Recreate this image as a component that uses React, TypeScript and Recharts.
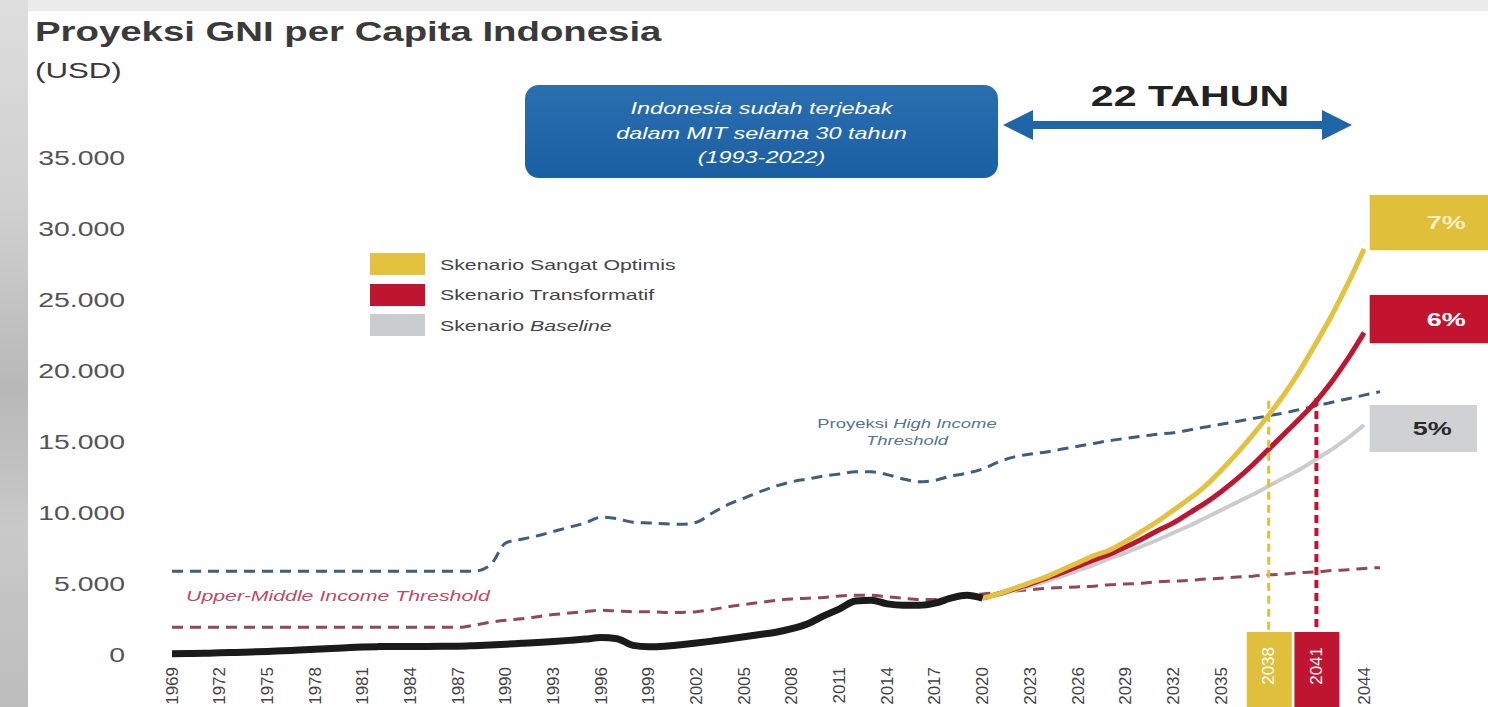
import React from "react";
import {
  LineChart,
  Line,
  XAxis,
  YAxis,
  Legend,
  ReferenceLine,
  ReferenceArea,
} from "recharts";

const FONT = '"Liberation Sans", Arial, Helvetica, sans-serif';
// the source picture is stretched sideways, so text is widened to match
const STRETCH = 1.42;

const historyYears = [
  1969, 1970, 1971, 1972, 1973, 1974, 1975, 1976, 1977, 1978,
  1979, 1980, 1981, 1982, 1983, 1984, 1985, 1986, 1987, 1988,
  1989, 1990, 1991, 1992, 1993, 1994, 1995, 1996, 1997, 1998,
  1999, 2000, 2001, 2002, 2003, 2004, 2005, 2006, 2007, 2008,
  2009, 2010, 2011, 2012, 2013, 2014, 2015, 2016, 2017, 2018,
  2019, 2020,
];
const historyGni = [
  80, 100, 120, 150, 180, 215, 250, 300, 350, 400,
  450, 510, 560, 590, 600, 600, 600, 610, 620, 660,
  710, 760, 820, 880, 950, 1030, 1120, 1230, 1150, 680,
  580, 620, 720, 840, 980, 1130, 1280, 1440, 1600, 1850,
  2200, 2750, 3250, 3800, 3850, 3600, 3500, 3500, 3650, 4000,
  4200, 4000,
];

const projectionYears = [
  2020, 2021, 2022, 2023, 2024, 2025, 2026, 2027, 2028, 2029,
  2030, 2031, 2032, 2033, 2034, 2035, 2036, 2037, 2038, 2039,
  2040, 2041, 2042, 2043, 2044,
];
const sangatOptimis = [
  4000, 4300, 4700, 5100, 5500, 6000, 6500, 7000, 7400, 8000,
  8700, 9400, 10200, 11000, 11900, 13000, 14200, 15500, 16900, 18400,
  20100, 22000, 24000, 26200, 28600,
];
const transformatif = [
  4000, 4300, 4650, 5000, 5400, 5800, 6250, 6700, 7100, 7600,
  8150, 8750, 9300, 10000, 10700, 11500, 12400, 13400, 14500, 15600,
  16700, 17900, 19300, 20900, 22700,
];
const baseline = [
  4000, 4250, 4550, 4850, 5200, 5550, 5950, 6350, 6800, 7200,
  7650, 8100, 8600, 9100, 9650, 10200, 10750, 11300, 11900, 12500,
  13100, 13800, 14500, 15300, 16200,
];

const thresholdYears = [
  1969, 1970, 1971, 1972, 1973, 1974, 1975, 1976, 1977, 1978,
  1979, 1980, 1981, 1982, 1983, 1984, 1985, 1986, 1987, 1988,
  1989, 1990, 1991, 1992, 1993, 1994, 1995, 1996, 1997, 1998,
  1999, 2000, 2001, 2002, 2003, 2004, 2005, 2006, 2007, 2008,
  2009, 2010, 2011, 2012, 2013, 2014, 2015, 2016, 2017, 2018,
  2019, 2020, 2021, 2022, 2023, 2024, 2025, 2026, 2027, 2028,
  2029, 2030, 2031, 2032, 2033, 2034, 2035, 2036, 2037, 2038,
  2039, 2040, 2041, 2042, 2043, 2044, 2045,
];
const highIncome = [
  5900, 5900, 5900, 5900, 5900, 5900, 5900, 5900, 5900, 5900,
  5900, 5900, 5900, 5900, 5900, 5900, 5900, 5900, 5900, 5900,
  6300, 7900, 8150, 8400, 8700, 9000, 9300, 9700, 9600, 9350,
  9300, 9250, 9200, 9350, 10000, 10600, 11050, 11500, 11900, 12200,
  12400, 12600, 12750, 12900, 12900, 12700, 12400, 12200, 12300, 12600,
  12800, 13100, 13600, 13950, 14150, 14300, 14500, 14700, 14900, 15100,
  15250, 15400, 15550, 15650, 15850, 16050, 16250, 16450, 16650, 16850,
  17050, 17300, 17550, 17800, 18050, 18300, 18550,
];
const upperMiddle = [
  1950, 1950, 1950, 1950, 1950, 1950, 1950, 1950, 1950, 1950,
  1950, 1950, 1950, 1950, 1950, 1950, 1950, 1950, 1950, 2100,
  2300, 2450, 2550, 2700, 2850, 2950, 3050, 3150, 3100, 3050,
  3050, 3000, 3000, 3050, 3200, 3400, 3550, 3700, 3850, 3950,
  4000, 4050, 4150, 4200, 4200, 4100, 4000, 3900, 3900, 4050,
  4200, 4300, 4400, 4500, 4600, 4700, 4750, 4800, 4850, 4950,
  5000, 5050, 5150, 5200, 5250, 5350, 5400, 5500, 5550, 5650,
  5700, 5800, 5850, 5950, 6000, 6100, 6150,
];

const xTicks = [
  1969, 1972, 1975, 1978, 1981, 1984, 1987, 1990, 1993, 1996, 1999, 2002, 2005,
  2008, 2011, 2014, 2017, 2020, 2023, 2026, 2029, 2032, 2035, 2038, 2041, 2044,
];
const yTicks = [0, 5000, 10000, 15000, 20000, 25000, 30000, 35000];

// years that get a coloured box under the axis
const crossingYears = [
  { year: 2038, color: "#dfbf3c", from: 17900 },
  { year: 2041, color: "#bf1530", from: 18100 },
];

const legendItems = [
  { label: "Skenario Sangat Optimis", italic: "", color: "#e2c23e" },
  { label: "Skenario Transformatif", italic: "", color: "#c0152f" },
  { label: "Skenario ", italic: "Baseline", color: "#cbcccd" },
];

const endBoxes = [
  { text: "7%", x2: 2054, y1: 28500, y2: 32400, fill: "#e0bf3a", color: "#f8efc4", dx: 0 },
  { text: "6%", x2: 2054, y1: 21950, y2: 25350, fill: "#c2142e", color: "#ffffff", dx: 0 },
  { text: "5%", x2: 2051.1, y1: 14300, y2: 17600, fill: "#d0d1d2", color: "#2a2a2a", dx: 9 },
];

const zip = (xs: number[], ys: number[]) => xs.map((year, i) => ({ year, value: ys[i] }));

const fmt = (v: number) => String(v).replace(/\B(?=(\d{3})+(?!\d))/g, ".");

const YTick = (props: any) => {
  const { x, y, payload } = props;
  return (
    <text
      transform={`translate(${x},${y}) scale(${STRETCH},1)`}
      textAnchor="end"
      dominantBaseline="central"
      fontSize={20}
      fontFamily={FONT}
      fill="#555"
    >
      {fmt(payload.value)}
    </text>
  );
};

const XTick = (props: any) => {
  const { x, y, payload } = props;
  const mark = crossingYears.find((m) => m.year === payload.value);
  return (
    <g>
      {mark && <rect x={x - 22} y={y - 35} width={45} height={90} fill={mark.color} />}
      <text
        transform={`translate(${x},${mark ? y - 20 : y}) rotate(-90)`}
        textAnchor="end"
        dominantBaseline="central"
        fontSize={17}
        fontFamily={FONT}
        fill={mark ? "#fff" : "#444"}
      >
        {payload.value}
      </text>
    </g>
  );
};

const BoxLabel = (props: any) => {
  const { viewBox, text, color, dx } = props;
  const cx = viewBox.x + viewBox.width / 2 + dx;
  const cy = viewBox.y + viewBox.height / 2;
  return (
    <text
      transform={`translate(${cx},${cy}) scale(${STRETCH},1)`}
      textAnchor="middle"
      dominantBaseline="central"
      fontSize={19}
      fontWeight="bold"
      fontFamily={FONT}
      fill={color}
    >
      {text}
    </text>
  );
};

const LegendBox = () => (
  <div style={{ fontFamily: FONT }}>
    {legendItems.map((it) => (
      <div key={it.label + it.italic} style={{ display: "flex", alignItems: "center", height: 30.5 }}>
        <div style={{ width: 55, height: 22, background: it.color, marginRight: 15 }} />
        <div
          style={{
            fontSize: 15,
            color: "#444",
            whiteSpace: "nowrap",
            transform: `scaleX(${STRETCH})`,
            transformOrigin: "left center",
          }}
        >
          {it.label}
          {it.italic && <i>{it.italic}</i>}
        </div>
      </div>
    ))}
  </div>
);

const stretched = (origin: string): React.CSSProperties => ({
  transform: `scaleX(${STRETCH})`,
  transformOrigin: origin,
  whiteSpace: "nowrap",
});

export default function App() {
  return (
    <div
      style={{
        position: "absolute",
        left: 0,
        top: 0,
        width: 1488,
        height: 707,
        overflow: "hidden",
        background: "#fff",
        fontFamily: FONT,
      }}
    >
      <div
        style={{
          position: "absolute",
          left: 0,
          top: 0,
          width: 1488,
          height: 11,
          background: "#ececec",
        }}
      />
      <div
        style={{
          position: "absolute",
          left: 0,
          top: 0,
          width: 28,
          height: 707,
          background:
            "linear-gradient(180deg, #dedede 0%, #cfcfcf 30%, #b8b8b8 55%, #c9c9c9 75%, #bdbdbd 100%)",
        }}
      />

      <div style={{ position: "absolute", left: 0, top: 0 }}>
        <LineChart width={1488} height={707} margin={{ top: 158, right: 108, bottom: 0, left: 0 }}>
          <XAxis
            type="number"
            dataKey="year"
            domain={[1969, 2045]}
            ticks={xTicks}
            interval={0}
            tick={<XTick />}
            axisLine={false}
            tickLine={false}
            tickSize={0}
            tickMargin={12}
            height={52}
            allowDuplicatedCategory={false}
          />
          <YAxis
            type="number"
            domain={[0, 35000]}
            ticks={yTicks}
            tick={<YTick />}
            axisLine={false}
            tickLine={false}
            tickSize={0}
            tickMargin={47}
            width={172}
          />
          <Legend
            layout="horizontal"
            verticalAlign="middle"
            align="center"
            content={<LegendBox />}
            wrapperStyle={{ position: "absolute", left: 370, top: 249, width: 320, height: 95 }}
          />

          {endBoxes.map((b) => (
            <ReferenceArea
              key={b.text}
              x1={2044.35}
              x2={b.x2}
              y1={b.y1}
              y2={b.y2}
              fill={b.fill}
              fillOpacity={1}
              stroke="none"
              ifOverflow="visible"
              label={<BoxLabel text={b.text} color={b.color} dx={b.dx} />}
            />
          ))}

          <Line
            data={zip(thresholdYears, highIncome)}
            dataKey="value"
            name="Proyeksi High Income Threshold"
            type="monotone"
            stroke="#3e5e7b"
            strokeWidth={3}
            strokeDasharray="11 7"
            dot={false}
            legendType="none"
            isAnimationActive={false}
          />
          <Line
            data={zip(thresholdYears, upperMiddle)}
            dataKey="value"
            name="Upper-Middle Income Threshold"
            type="monotone"
            stroke="#8f4a55"
            strokeWidth={3}
            strokeDasharray="11 7"
            dot={false}
            legendType="none"
            isAnimationActive={false}
          />
          <Line
            data={zip(projectionYears, baseline)}
            dataKey="value"
            name="Skenario Baseline"
            type="monotone"
            stroke="#cbcccd"
            strokeWidth={4}
            dot={false}
            isAnimationActive={false}
          />
          <Line
            data={zip(projectionYears, transformatif)}
            dataKey="value"
            name="Skenario Transformatif"
            type="monotone"
            stroke="#c0152f"
            strokeWidth={5}
            dot={false}
            isAnimationActive={false}
          />
          <Line
            data={zip(projectionYears, sangatOptimis)}
            dataKey="value"
            name="Skenario Sangat Optimis"
            type="monotone"
            stroke="#e2c23e"
            strokeWidth={5}
            dot={false}
            isAnimationActive={false}
          />
          <Line
            data={zip(historyYears, historyGni)}
            dataKey="value"
            name="GNI per Capita"
            type="monotone"
            stroke="#1b1b1b"
            strokeWidth={7}
            dot={false}
            legendType="none"
            isAnimationActive={false}
          />

          {crossingYears.map((m) => (
            <ReferenceLine
              key={m.year}
              segment={[
                { x: m.year, y: m.from },
                { x: m.year, y: 1650 },
              ]}
              stroke={m.color}
              strokeWidth={m.year === 2038 ? 3 : 4}
              strokeDasharray="8 5"
              ifOverflow="visible"
            />
          ))}
        </LineChart>
      </div>

      {/* title */}
      <div
        style={{
          position: "absolute",
          left: 35,
          top: 18,
          fontSize: 27,
          lineHeight: "28px",
          fontWeight: "bold",
          color: "#3a3a3a",
          ...stretched("left center"),
        }}
      >
        Proyeksi GNI per Capita Indonesia
      </div>
      <div
        style={{
          position: "absolute",
          left: 35,
          top: 57,
          fontSize: 22,
          lineHeight: "28px",
          color: "#3a3a3a",
          ...stretched("left center"),
        }}
      >
        (USD)
      </div>

      {/* MIT call-out */}
      <div
        style={{
          position: "absolute",
          left: 525,
          top: 85,
          width: 473,
          height: 93,
          borderRadius: 14,
          background: "linear-gradient(180deg, #2a6fb0 0%, #1b5fa3 100%)",
          color: "#fff",
          fontStyle: "italic",
          fontSize: 16.5,
          lineHeight: "24.5px",
          textAlign: "center",
          paddingTop: 11,
          boxSizing: "border-box",
        }}
      >
        {["Indonesia sudah terjebak", "dalam MIT selama 30 tahun", "(1993-2022)"].map((t) => (
          <div key={t} style={stretched("center center")}>
            {t}
          </div>
        ))}
      </div>

      <div
        style={{
          position: "absolute",
          left: 1040,
          width: 300,
          top: 80,
          fontSize: 29,
          lineHeight: "32px",
          fontWeight: "bold",
          color: "#222",
          textAlign: "center",
          ...stretched("center center"),
        }}
      >
        22 TAHUN
      </div>
      <svg
        width={1488}
        height={707}
        style={{ position: "absolute", left: 0, top: 0, pointerEvents: "none" }}
      >
        <polygon
          points="1003,125 1033,110 1033,121 1322,121 1322,110 1352,125 1322,140 1322,129 1033,129 1033,140"
          fill="#1f66a8"
        />
      </svg>

      {/* threshold captions */}
      <div
        style={{
          position: "absolute",
          left: 757,
          width: 300,
          top: 415,
          fontSize: 13,
          lineHeight: "17px",
          color: "#557592",
          textAlign: "center",
          ...stretched("center center"),
        }}
      >
        Proyeksi <i>High Income</i>
        <br />
        <i>Threshold</i>
      </div>
      <div
        style={{
          position: "absolute",
          left: 186,
          top: 587,
          fontSize: 15,
          lineHeight: "18px",
          fontStyle: "italic",
          color: "#bf4a63",
          ...stretched("left center"),
        }}
      >
        Upper-Middle Income Threshold
      </div>
    </div>
  );
}
